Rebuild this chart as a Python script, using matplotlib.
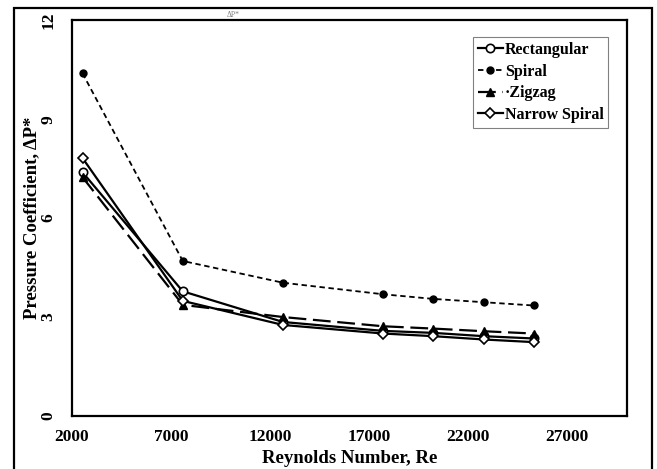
import numpy as np
import matplotlib.pyplot as plt
from matplotlib.patches import Rectangle

plt.rcParams['font.family'] = ['Liberation Serif', 'DejaVu Serif']

re = [2530, 7590, 12650, 17710, 20240, 22770, 25300]
rect = [7.39, 3.78, 2.85, 2.58, 2.52, 2.42, 2.35]
spiral = [10.39, 4.70, 4.04, 3.69, 3.55, 3.45, 3.35]
zigzag = [7.24, 3.37, 3.00, 2.72, 2.65, 2.57, 2.50]
narrow = [7.82, 3.49, 2.76, 2.50, 2.42, 2.32, 2.24]

xticks = [2000, 7000, 12000, 17000, 22000, 27000]
yticks = [0, 3, 6, 9, 12]

fig = plt.figure(figsize=(6.57, 4.69), dpi=100)
ax = fig.add_axes([0.1096, 0.113, 0.8444, 0.844])

ax.plot(re, rect, '-', color='black', lw=1.6, marker='o', ms=6, mfc='white', mec='black', mew=1.2, label='Rectangular')
ax.plot(re, spiral, color='black', lw=1.3, ls=(0, (3, 2)), marker='o', ms=5, mfc='black', label='Spiral')
ax.plot(re, zigzag, color='black', lw=1.6, ls=(0, (8, 3)), marker='^', ms=6, mfc='black', label='·Zigzag')
ax.plot(re, narrow, '-', color='black', lw=1.6, marker='D', ms=5, mfc='white', mec='black', mew=1.2, label='Narrow Spiral')

ax.set_xlim(2000, 30000)
ax.set_ylim(0, 12)
ax.set_xticks(xticks)
ax.set_yticks(yticks)
ax.tick_params(length=0, labelsize=12.5)
ax.tick_params(axis='x', pad=9)
ax.tick_params(axis='y', pad=11)
for t in ax.get_yticklabels():
    t.set_rotation(90)
    t.set_va('center')
    t.set_fontweight('bold')
for t in ax.get_xticklabels():
    t.set_fontweight('bold')
for s in ax.spines.values():
    s.set_linewidth(1.6)

ax.set_xlabel('Reynolds Number, Re', fontsize=13.5, fontweight='bold', labelpad=4)
ax.set_ylabel('Pressure Coefficient, ΔP*', fontsize=13.5, fontweight='bold', labelpad=0)
ax.set_title('ΔP*', fontsize=5.5, color='gray', x=0.29, pad=2)

leg = ax.legend(loc='upper right', bbox_to_anchor=(0.967, 0.957), borderaxespad=0,
                prop={'weight': 'bold', 'size': 11.5},
                handlelength=1.6, handletextpad=0.1, borderpad=0.3, labelspacing=0.35,
                fancybox=False, edgecolor='gray', framealpha=1)
leg.get_frame().set_linewidth(0.8)

fig.patches.append(Rectangle((14 / 657, -0.05), 638 / 657, 1.05 - 8 / 469, transform=fig.transFigure,
                             fill=False, lw=1.6, edgecolor='black'))

fig.savefig('out.png', dpi=100)
